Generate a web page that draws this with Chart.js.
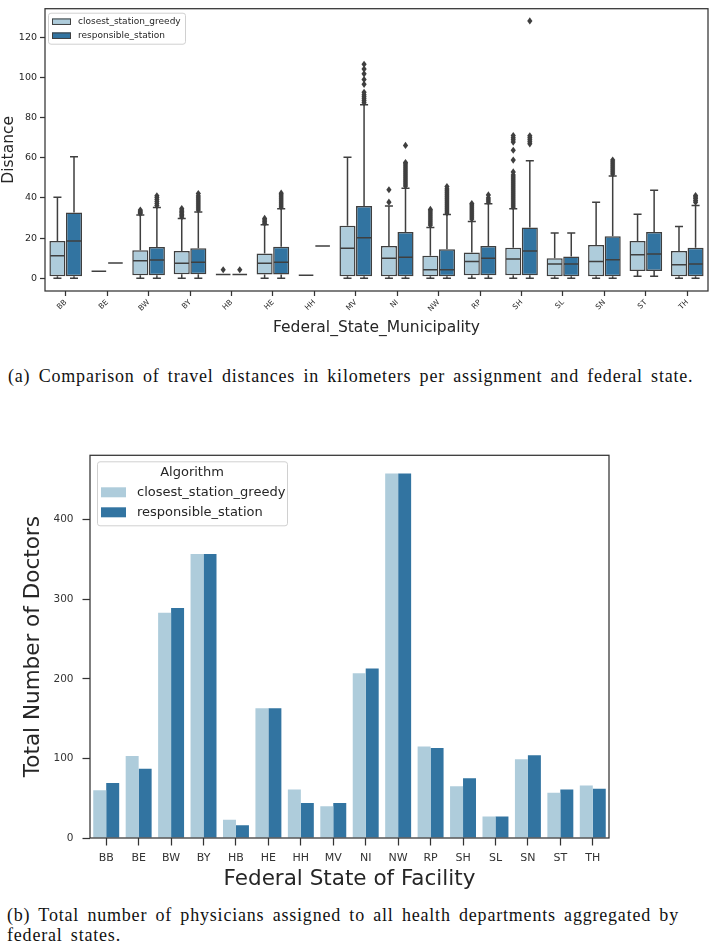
<!DOCTYPE html>
<html>
<head>
<meta charset="utf-8">
<script src="https://cdn.jsdelivr.net/npm/chart.js@4.4.0/dist/chart.umd.min.js"></script>
<style>
  body { margin: 0; background: #fff; width: 709px; height: 945px; position: relative; overflow: hidden; }
  #distChart { position: absolute; left: 0; top: 0; }
  #doctorChart { position: absolute; left: 0; top: 440px; }
  .caption { position: absolute; left: 0; font-family: "Liberation Serif", serif; font-size: 18px; letter-spacing: 0.8px; word-spacing: 3px; color: #111; white-space: nowrap; }
</style>
</head>
<body>
<canvas id="distChart" width="709" height="345"></canvas>
<div class="caption" style="top:366px; left:8px;">(a) Comparison of travel distances in kilometers per assignment and federal state.</div>
<canvas id="doctorChart" width="709" height="455"></canvas>
<div class="caption" style="top:905px; left:7px; line-height:20px;">(b) Total number of physicians assigned to all health departments aggregated by<br>federal states.</div>

<script>
// ---- data ----
const states = ['BB', 'BE', 'BW', 'BY', 'HB', 'HE', 'HH', 'MV', 'NI', 'NW', 'RP', 'SH', 'SL', 'SN', 'ST', 'TH'];
const seriesNames = ['closest_station_greedy', 'responsible_station'];

// box stats per state: [lower whisker, q1, median, q3, upper whisker]
const greedyStats = [
    [0, 1.0, 11.2, 18.5, 40.3],
    [3.4, 3.4, 3.4, 3.4, 3.4],
    [0, 1.5, 8.7, 13.9, 31.5],
    [0, 2.0, 7.5, 13.6, 29.8],
    [1.8, 1.8, 1.8, 1.8, 1.8],
    [0, 1.8, 7.4, 12.3, 26.6],
    [1.5, 1.5, 1.5, 1.5, 1.5],
    [0, 1.0, 14.9, 26.1, 60.3],
    [0, 1.0, 9.9, 16.0, 36.0],
    [0, 1.0, 4.2, 11.2, 25.3],
    [0, 1.5, 8.3, 12.8, 28.3],
    [0, 1.5, 9.6, 15.2, 34.6],
    [0, 1.0, 7.1, 9.9, 22.5],
    [0, 1.0, 8.3, 16.5, 37.9],
    [1.0, 3.6, 11.7, 18.5, 31.9],
    [0, 1.0, 6.7, 13.6, 25.8]
];
const responsibleStats = [
    [0, 1.0, 18.5, 32.7, 60.6],
    [7.6, 7.6, 7.6, 7.6, 7.6],
    [0, 1.5, 9.1, 15.5, 35.3],
    [0, 2.0, 7.9, 14.9, 33.0],
    [1.8, 1.8, 1.8, 1.8, 1.8],
    [0, 1.8, 7.9, 15.7, 34.6],
    [16.0, 16.0, 16.0, 16.0, 16.0],
    [0, 1.0, 20.1, 36.0, 86.5],
    [0, 1.0, 10.4, 23.0, 44.8],
    [0, 1.0, 4.2, 14.4, 31.7],
    [0, 1.5, 9.9, 16.0, 37.1],
    [0, 1.5, 13.6, 25.3, 58.6],
    [0, 1.0, 7.1, 10.8, 22.5],
    [0, 1.0, 9.2, 20.9, 50.9],
    [1.0, 3.6, 12.0, 23.0, 43.9],
    [0, 1.0, 7.1, 15.2, 36.3]
];

// outliers per state
const greedyFliers = [
    [], [],
    [32.2, 32.8, 33.4, 34.0],
    [30.5, 31.2, 31.9, 32.6, 33.3, 34.0, 34.7],
    [4.2],
    [27.4, 28.2, 29.0, 29.8],
    [], [],
    [37.9, 44.1],
    [26.5, 27.5, 28.5, 29.5, 30.5, 31.5, 32.5, 33.5, 34.3],
    [29.5, 30.5, 31.5, 32.5, 33.5, 34.5, 35.5, 36.5, 37.2],
    [35.5, 36.5, 37.5, 38.5, 39.5, 40.5, 41.5, 42.5, 43.5, 44.5, 45.5, 46.5, 47.5, 48.5, 49.5, 50.5, 51.5, 53.0, 58.9, 63.8, 67.9, 69.0, 70.0, 71.1],
    [], [], [], []
];
const responsibleFliers = [
    [], [],
    [36.2, 37.2, 38.2, 39.2, 40.2, 41.1],
    [34.0, 35.0, 36.0, 37.0, 38.0, 39.0, 40.0, 41.0, 42.2],
    [4.2],
    [35.5, 36.5, 37.5, 38.5, 39.5, 40.5, 41.5, 42.4],
    [],
    [87.5, 88.5, 89.5, 90.5, 91.5, 92.7, 96.7, 99.1, 101.9, 104.3, 106.7],
    [46.0, 47.0, 48.0, 49.0, 50.0, 51.0, 52.0, 53.0, 54.0, 55.0, 56.0, 57.0, 57.7, 66.2],
    [32.5, 33.5, 34.5, 35.5, 36.5, 37.5, 38.5, 39.5, 40.5, 41.5, 42.5, 43.5, 44.5, 45.7],
    [38.0, 39.0, 40.0, 41.5],
    [67.0, 68.0, 69.0, 70.0, 71.0, 128.3],
    [],
    [52.0, 53.0, 54.0, 55.0, 56.0, 57.0, 58.0, 58.9],
    [],
    [37.9, 38.8, 39.7, 40.5, 41.2]
];
const distanceTicks = [0, 20, 40, 60, 80, 100, 120];

// total doctors per federal state of facility
const doctorsGreedy = [60, 103, 283, 357, 23, 163, 61, 40, 207, 458, 115, 65, 27, 99, 57, 66];
const doctorsResponsible = [69, 87, 289, 357, 16, 163, 44, 44, 213, 458, 113, 75, 27, 104, 61, 62];
const doctorTicks = [0, 100, 200, 300, 400];

// ---- styles ----
const lightBlue = '#aeccdb';
const darkBlue = '#3274a1';
const lineGray = '#3f3f3f';
const textColor = '#262626';
const fontFamily = '"DejaVu Sans", sans-serif';

// draws a matplotlib style legend box at (x, y) relative to the chart area
function drawLegend(chart, opts) {
    const ctx = chart.ctx;
    const a = chart.chartArea;
    const x = a.left + opts.x, y = a.top + opts.y;
    ctx.save();
    ctx.fillStyle = 'rgba(255,255,255,0.85)';
    ctx.strokeStyle = '#d0d0d0';
    ctx.lineWidth = 1;
    ctx.beginPath();
    ctx.roundRect(x + 0.5, y + 0.5, opts.w, opts.h, 2.5);
    ctx.fill();
    ctx.stroke();
    let rowY = y + opts.firstRow;
    if (opts.title) {
        ctx.fillStyle = textColor;
        ctx.font = opts.fontSize + 'px ' + fontFamily;
        ctx.textAlign = 'center';
        ctx.textBaseline = 'middle';
        ctx.fillText(opts.title, x + opts.w / 2, y + opts.titleY);
    }
    chart.data.datasets.forEach(ds => {
        ctx.fillStyle = ds.backgroundColor;
        ctx.fillRect(x + opts.patchX, rowY - opts.patchH / 2, opts.patchW, opts.patchH);
        if (opts.patchEdge) {
            ctx.strokeStyle = lineGray;
            ctx.lineWidth = 1;
            ctx.strokeRect(x + opts.patchX + 0.5, rowY - opts.patchH / 2 + 0.5, opts.patchW - 1, opts.patchH - 1);
        }
        ctx.fillStyle = textColor;
        ctx.font = opts.fontSize + 'px ' + fontFamily;
        ctx.textAlign = 'left';
        ctx.textBaseline = 'middle';
        ctx.fillText(ds.label, x + opts.textX, rowY);
        rowY += opts.rowGap;
    });
    ctx.restore();
}

function drawFrame(chart) {
    const ctx = chart.ctx;
    const a = chart.chartArea;
    ctx.save();
    ctx.strokeStyle = '#333';
    ctx.lineWidth = 1.25;
    ctx.strokeRect(a.left, a.top, a.right - a.left, a.bottom - a.top);
    ctx.restore();
}

// whiskers, caps, medians and outliers on top of the floating bars
const boxPlugin = {
    id: 'boxWhiskers',
    afterDatasetsDraw(chart) {
        const ctx = chart.ctx;
        const yScale = chart.scales.y;
        const allStats = [greedyStats, responsibleStats];
        const allFliers = [greedyFliers, responsibleFliers];
        ctx.save();
        ctx.strokeStyle = lineGray;
        ctx.fillStyle = lineGray;
        ctx.lineWidth = 1.5;
        allStats.forEach((stats, di) => {
            const meta = chart.getDatasetMeta(di);
            meta.data.forEach((bar, i) => {
                const [lo, q1, med, q3, hi] = stats[i];
                const cx = bar.x, w = bar.width;
                const py = v => yScale.getPixelForValue(v);
                ctx.beginPath();
                ctx.moveTo(cx, py(q3)); ctx.lineTo(cx, py(hi));
                ctx.moveTo(cx, py(q1)); ctx.lineTo(cx, py(lo));
                ctx.moveTo(cx - w / 4, py(hi)); ctx.lineTo(cx + w / 4, py(hi));
                ctx.moveTo(cx - w / 4, py(lo)); ctx.lineTo(cx + w / 4, py(lo));
                ctx.moveTo(cx - w / 2 + 0.75, py(med)); ctx.lineTo(cx + w / 2 - 0.75, py(med));
                ctx.stroke();
                allFliers[di][i].forEach(v => {
                    const fy = py(v);
                    ctx.beginPath();
                    ctx.moveTo(cx, fy - 3.6);
                    ctx.lineTo(cx + 2.6, fy);
                    ctx.lineTo(cx, fy + 3.6);
                    ctx.lineTo(cx - 2.6, fy);
                    ctx.closePath();
                    ctx.fill();
                });
            });
        });
        ctx.restore();
    },
    afterDraw(chart) {
        drawFrame(chart);
        drawLegend(chart, {
            x: 3, y: 4, w: 137, h: 31, firstRow: 9, rowGap: 14,
            patchX: 4, patchW: 19, patchH: 6.5, patchEdge: true, textX: 30, fontSize: 9
        });
    }
};

const barPlugin = {
    id: 'barFrame',
    afterDraw(chart) {
        drawFrame(chart);
        drawLegend(chart, {
            x: 7, y: 6, w: 190, h: 64, title: 'Algorithm', titleY: 11, firstRow: 31, rowGap: 20,
            patchX: 4, patchW: 25, patchH: 10, patchEdge: false, textX: 40, fontSize: 13
        });
    }
};

// ---- chart (a): travel distances ----
new Chart(document.getElementById('distChart'), {
    type: 'bar',
    data: {
        labels: states,
        datasets: [
            {
                label: seriesNames[0],
                data: greedyStats.map(s => [s[1], s[3]]),
                backgroundColor: lightBlue,
                borderColor: lineGray,
                borderWidth: 1.5,
                borderSkipped: false
            },
            {
                label: seriesNames[1],
                data: responsibleStats.map(s => [s[1], s[3]]),
                backgroundColor: darkBlue,
                borderColor: lineGray,
                borderWidth: 1.5,
                borderSkipped: false
            }
        ]
    },
    options: {
        responsive: false,
        animation: false,
        categoryPercentage: 0.8,
        barPercentage: 0.97,
        layout: { padding: { top: 1, right: 1, left: 0, bottom: 0 } },
        plugins: { legend: { display: false }, tooltip: { enabled: false } },
        scales: {
            x: {
                afterFit: s => { s.height = 54; },
                grid: { display: true, drawOnChartArea: false, offset: false, tickLength: 5, tickColor: '#333', tickWidth: 1.25 },
                border: { display: false },
                ticks: { color: textColor, font: { family: fontFamily, size: 7.5 }, minRotation: 45, maxRotation: 45, padding: 2 },
                title: { display: true, text: 'Federal_State_Municipality', color: textColor, font: { family: fontFamily, size: 15.5 }, padding: { top: 0, bottom: 8 } }
            },
            y: {
                min: -6.4,
                max: 134.4,
                afterFit: s => { s.width = 45; },
                afterBuildTicks: s => { s.ticks = distanceTicks.map(v => ({ value: v })); },
                grid: { display: true, drawOnChartArea: false, tickLength: 5, tickColor: '#333', tickWidth: 1.25 },
                border: { display: false },
                ticks: { color: textColor, font: { family: fontFamily, size: 9.5 }, padding: 3 },
                title: { display: true, text: 'Distance', color: textColor, font: { family: fontFamily, size: 15.5 }, padding: { top: 0, bottom: 0 } }
            }
        }
    },
    plugins: [boxPlugin]
});

// ---- chart (b): total doctors ----
new Chart(document.getElementById('doctorChart'), {
    type: 'bar',
    data: {
        labels: states,
        datasets: [
            { label: seriesNames[0], data: doctorsGreedy, backgroundColor: lightBlue, borderWidth: 0 },
            { label: seriesNames[1], data: doctorsResponsible, backgroundColor: darkBlue, borderWidth: 0 }
        ]
    },
    options: {
        responsive: false,
        animation: false,
        categoryPercentage: 0.8,
        barPercentage: 1.0,
        layout: { padding: { top: 13, right: 100, left: 0, bottom: 0 } },
        plugins: { legend: { display: false }, tooltip: { enabled: false } },
        scales: {
            x: {
                afterFit: s => { s.height = 57; },
                grid: { display: true, drawOnChartArea: false, offset: false, tickLength: 7.5, tickColor: '#333', tickWidth: 1.25 },
                border: { display: false },
                ticks: { color: '#333', font: { family: fontFamily, size: 11 }, maxRotation: 0, padding: 6 },
                title: { display: true, text: 'Federal State of Facility', color: textColor, font: { family: fontFamily, size: 21.5 }, padding: { top: 0, bottom: 3 } }
            },
            y: {
                min: 0,
                max: 481,
                afterFit: s => { s.width = 90; },
                afterBuildTicks: s => { s.ticks = doctorTicks.map(v => ({ value: v })); },
                grid: { display: true, drawOnChartArea: false, tickLength: 7.5, tickColor: '#333', tickWidth: 1.25 },
                border: { display: false },
                ticks: { color: '#333', font: { family: fontFamily, size: 10.5 }, padding: 9 },
                title: { display: true, text: 'Total Number of Doctors', color: textColor, font: { family: fontFamily, size: 21.5 }, padding: { top: 21, bottom: 0 } }
            }
        }
    },
    plugins: [barPlugin]
});
</script>
</body>
</html>
